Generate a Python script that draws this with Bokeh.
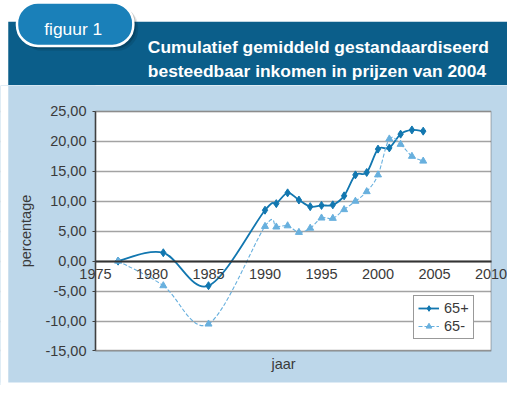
import numpy as np
from bokeh.plotting import figure
from bokeh.models import Range1d, FixedTicker, Legend, LegendItem, Label, ColumnDataSource, BoxAnnotation
from bokeh.layouts import column
from bokeh.core.properties import value
from bokeh.embed import file_html
from bokeh.resources import INLINE

# ---------------- data ----------------
badge_text = "figuur 1"
title_lines = ["Cumulatief gemiddeld gestandaardiseerd",
               "besteedbaar inkomen in prijzen van 2004"]
years = [1977, 1981, 1985, 1990, 1991, 1992, 1993, 1994, 1995, 1996,
         1997, 1998, 1999, 2000, 2001, 2002, 2003, 2004]
plus65 = [0.0, 1.4, -4.1, 8.5, 9.6, 11.4, 10.2, 9.1, 9.3, 9.4,
          10.9, 14.4, 14.8, 18.7, 18.9, 21.2, 21.9, 21.7]
min65 = [0.0, -4.1, -10.5, 5.8, 5.7, 5.9, 4.8, 5.5, 7.2, 7.15,
         8.6, 10.0, 11.6, 14.4, 20.4, 19.5, 17.5, 16.7]
series_names = ["65+", "65-"]
y_ticks = [-15, -10, -5, 0, 5, 10, 15, 20, 25]
y_tick_labels = ["-15,00", "-10,00", "-5,00", "0,00", "5,00", "10,00", "15,00", "20,00", "25,00"]
x_ticks = [1975, 1980, 1985, 1990, 1995, 2000, 2005, 2010]
x_tick_labels = ["1975", "1980", "1985", "1990", "1995", "2000", "2005", "2010"]
y_title = "percentage"
x_title = "jaar"

FONT = "Liberation Sans"
DARK = "#0b5e8a"
PANEL = "#bdd7ea"
C_PLUS = "#1277b0"
C_MIN = "#68b0de"
TXT = "#3a3a3a"
FS = "14.5px"

X_MIN, X_MAX = x_ticks[0], x_ticks[-1]
Y_MIN, Y_MAX = y_ticks[0], y_ticks[-1]

# ---------------- layout geometry (design pixels of a 523x401 sheet) ----------------
W, H = 507, 385          # rendered size (fits window with 8px margins)
SHEET_W, SHEET_H = 523, 401
HDR_SHEET = 88           # header part of the sheet
HH = 85                  # header figure height
CH = H - HH              # chart figure height
PA_L, PA_R, PA_T, PA_B = 98, 506, 115, 365   # plot area on the sheet

xpp = (PA_R - PA_L) / (X_MAX - X_MIN)        # sheet px per year
ypp = (PA_B - PA_T) / (Y_MAX - Y_MIN)        # sheet px per percent


def xd(sx):
    return X_MIN + (sx - PA_L) / xpp


def yd(sy):
    return Y_MAX - (sy - PA_T) / ypp


def smooth(xs, ys, k=1.0 / 6.0):
    """Catmull-Rom style bezier control points (Excel-like smoothed line)."""
    xs = np.asarray(xs, float)
    ys = np.asarray(ys, float)
    n = len(xs)
    d = dict(x0=[], y0=[], x1=[], y1=[], cx0=[], cy0=[], cx1=[], cy1=[])
    for i in range(n - 1):
        a = max(i - 1, 0)
        b = min(i + 2, n - 1)
        d["x0"].append(xs[i]); d["y0"].append(ys[i])
        d["x1"].append(xs[i + 1]); d["y1"].append(ys[i + 1])
        d["cx0"].append(xs[i] + (xs[i + 1] - xs[a]) * k)
        d["cy0"].append(ys[i] + (ys[i + 1] - ys[a]) * k)
        d["cx1"].append(xs[i + 1] - (xs[b] - xs[i]) * k)
        d["cy1"].append(ys[i + 1] - (ys[b] - ys[i]) * k)
    return ColumnDataSource(d)


# ---------------- header ----------------
hdr = figure(width=W, height=HH, x_range=Range1d(0, SHEET_W), y_range=Range1d(HDR_SHEET, 0),
             output_backend="svg", toolbar_location=None, min_border=0,
             x_axis_type=None, y_axis_type=None, outline_line_color=None,
             background_fill_color="white", border_fill_color="white")
hdr.grid.visible = False
hdr.quad(left=[8], right=[SHEET_W], top=[22], bottom=[HDR_SHEET], fill_color=DARK, line_color=None)
# badge shadow
hdr.quad(left=[21], right=[142], top=[6], bottom=[52], border_radius=21,
         fill_color="black", fill_alpha=0.10, line_color=None)
hdr.quad(left=[19], right=[140], top=[4], bottom=[50], border_radius=21,
         fill_color="black", fill_alpha=0.16, line_color=None)
# badge
hdr.quad(left=[17], right=[137], top=[2], bottom=[47], border_radius=21,
         fill_color="#1a80b9", line_color="white", line_width=2.5)
hdr.text(x=[75], y=[30], text=[badge_text], text_color="white",
         text_font=value(FONT), text_font_size="17.4px",
         text_align="center", text_baseline="alphabetic")
hdr.text(x=[152, 152], y=[48.3, 73.3], text=title_lines, text_color="white",
         text_font=value(FONT), text_font_size="17.4px", text_font_style="bold",
         text_align="left", text_baseline="alphabetic")

# ---------------- chart ----------------
p = figure(width=W, height=CH, x_range=Range1d(xd(0), xd(SHEET_W)),
           y_range=Range1d(yd(SHEET_H), yd(HDR_SHEET)),
           output_backend="svg", toolbar_location=None, min_border=0,
           border_fill_color=PANEL, background_fill_color=PANEL,
           outline_line_color=None)

# white plot area (below grid)
p.add_layout(BoxAnnotation(left=X_MIN, right=X_MAX, bottom=Y_MIN, top=Y_MAX,
                           fill_color="white", fill_alpha=1, line_color=None, level="image"))

p.xgrid.visible = False
p.ygrid.ticker = FixedTicker(ticks=y_ticks)
p.ygrid.grid_line_color = "#a3a3a3"
p.ygrid.grid_line_width = 1.3

yax = p.yaxis[0]
yax.fixed_location = X_MIN
yax.bounds = (Y_MIN, Y_MAX)
yax.ticker = FixedTicker(ticks=y_ticks)
yax.major_label_overrides = {t: l for t, l in zip(y_ticks, y_tick_labels)}
yax.minor_tick_line_color = None
yax.major_tick_in = 0
yax.major_tick_out = 3
yax.major_tick_line_color = "#404040"
yax.axis_line_color = "#404040"
yax.axis_line_width = 1.5
yax.major_label_standoff = 6
yax.major_label_text_font = FONT
yax.major_label_text_font_size = FS
yax.major_label_text_color = TXT
yax.axis_label = y_title
yax.axis_label_text_font = FONT
yax.axis_label_text_font_size = FS
yax.axis_label_text_font_style = "normal"
yax.axis_label_text_color = TXT
yax.axis_label_standoff = 8

xax = p.xaxis[0]
xax.fixed_location = 0
xax.bounds = (X_MIN, X_MAX)
xax.ticker = FixedTicker(ticks=x_ticks)
xax.major_label_overrides = {t: l for t, l in zip(x_ticks, x_tick_labels)}
xax.minor_tick_line_color = None
xax.major_tick_in = 0
xax.major_tick_out = 0
xax.axis_line_color = "#333333"
xax.axis_line_width = 1.8
xax.major_label_standoff = 8
xax.major_label_text_font = FONT
xax.major_label_text_font_size = FS
xax.major_label_text_color = TXT

p.add_layout(Label(x=xd(292), y=yd(379), text=x_title, text_font=FONT,
                   text_font_size=FS, text_color=TXT,
                   text_align="center", text_baseline="middle"))

src_p = smooth(years, plus65)
src_m = smooth(years, min65)
b1 = p.bezier(x0="x0", y0="y0", x1="x1", y1="y1", cx0="cx0", cy0="cy0", cx1="cx1", cy1="cy1",
              source=src_p, line_color=C_PLUS, line_width=1.8)
s1 = p.scatter(years, plus65, marker="diamond", size=8, fill_color=C_PLUS, line_color=C_PLUS)
b2 = p.bezier(x0="x0", y0="y0", x1="x1", y1="y1", cx0="cx0", cy0="cy0", cx1="cx1", cy1="cy1",
              source=src_m, line_color=C_MIN, line_width=1.1, line_dash="4 2")
s2 = p.scatter(years, min65, marker="triangle", size=7, fill_color=C_MIN, line_color=C_MIN)

# hide grid overhang outside the plot area
p.add_layout(BoxAnnotation(right=X_MIN, fill_color=PANEL, fill_alpha=1, line_color=None, level="glyph"))
p.add_layout(BoxAnnotation(left=X_MAX, fill_color=PANEL, fill_alpha=1, line_color=None, level="glyph"))
# white page edges of the sheet
p.add_layout(BoxAnnotation(right=xd(8), fill_color="white", fill_alpha=1, line_color=None, level="glyph"))
p.add_layout(BoxAnnotation(top=yd(398), fill_color="white", fill_alpha=1, line_color=None, level="glyph"))
# plot area border
p.add_layout(BoxAnnotation(left=X_MIN, right=X_MAX, bottom=Y_MIN, top=Y_MAX,
                           fill_alpha=0, line_color="#5a5a5a", line_width=1.5, level="glyph"))

leg_x = 426 * W / SHEET_W
leg_y = (SHEET_H - 353) * CH / (SHEET_H - HDR_SHEET)
legend = Legend(items=[LegendItem(label=series_names[0], renderers=[b1, s1]),
                       LegendItem(label=series_names[1], renderers=[b2, s2])],
                location=(int(round(leg_x)), int(round(leg_y))), padding=4, spacing=2, margin=0,
                glyph_width=21, glyph_height=14, label_height=14, label_standoff=5,
                label_text_font=FONT, label_text_font_size=FS, label_text_color=TXT,
                border_line_color="#333333", border_line_width=1,
                background_fill_color="white", background_fill_alpha=1)
p.add_layout(legend)

layout = column(hdr, p, spacing=0)
open("out.html", "w").write(file_html(layout, INLINE))
